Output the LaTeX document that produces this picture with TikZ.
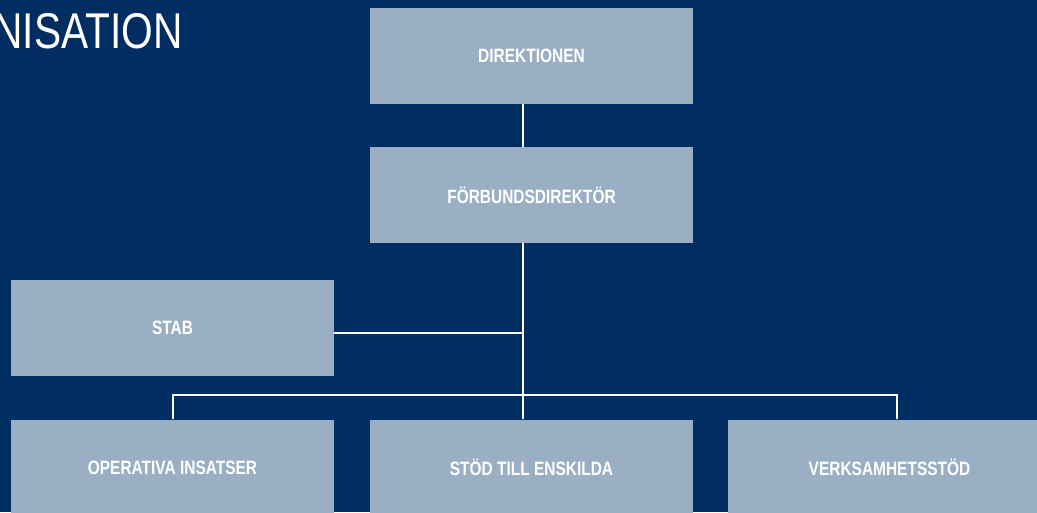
\documentclass[tikz,border=0pt]{standalone}
\usepackage{fontspec}
\newfontfamily\condfont[FakeStretch=0.80]{Liberation Sans}
\newfontfamily\titlefont[FakeStretch=0.81]{Liberation Sans}
\usetikzlibrary{calc}
\definecolor{navy}{HTML}{002E62}
\definecolor{boxblue}{HTML}{9AAFC4}
\begin{document}
\begin{tikzpicture}[x=0.75pt,y=-0.75pt,
  orgbox/.style={fill=boxblue, draw=none, minimum width=242.25pt, minimum height=72pt, inner sep=0pt,
    font=\condfont\bfseries\fontsize{14.5}{16}\selectfont, text=white},
  conn/.style={white, line width=1.5pt}]
\fill[navy] (0,0) rectangle (1037,512);
\useasboundingbox (0,0) rectangle (1037,512);
\clip (0,0) rectangle (1037,512);
\node[anchor=base east, text=white, inner sep=0pt, font=\titlefont\fontsize{37.7}{40}\selectfont] (title) at (183,48) {ORGANISATION};
\node[orgbox] (dir) at (531.5,56) {DIREKTIONEN};
\node[orgbox] (fd) at (531.5,195) {FÖRBUNDSDIREKTÖR};
\node[orgbox] (stab) at (172.5,328) {STAB};
\node[orgbox] (op) at (172.5,467.5) {OPERATIVA INSATSER};
\node[orgbox] (stod) at (531.5,467.5) {STÖD TILL ENSKILDA};
\node[orgbox] (verk) at (889.5,467.5) {VERKSAMHETSSTÖD};
\coordinate (bus) at (523,395);
\coordinate (sj) at (523,333);
\coordinate (rd) at (897,395);
\draw[conn] (dir.south -| bus) -- (fd.north -| bus);
\draw[conn] (fd.south -| bus) -- (stod.north -| bus);
\draw[conn] (stab.east |- sj) -- (sj);
\draw[conn] (op.north) -- (op.north |- bus) -- (rd) -- (rd |- verk.north);
\end{tikzpicture}
\end{document}
